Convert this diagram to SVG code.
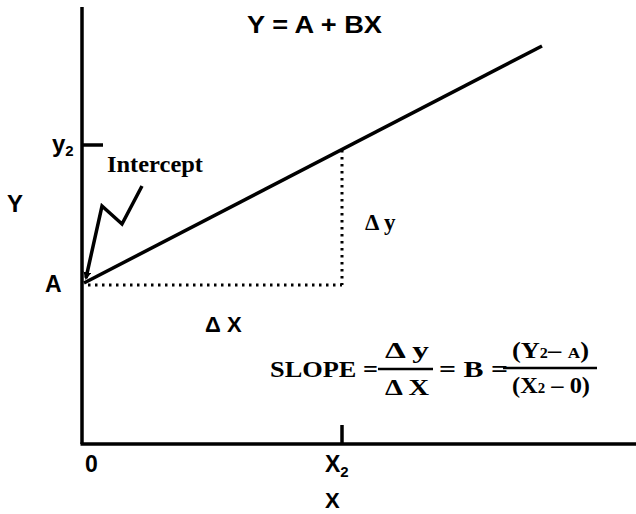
<svg xmlns="http://www.w3.org/2000/svg" width="636" height="514" viewBox="0 0 636 514">
<style>
.ax{stroke:#000;stroke-width:3.5;fill:none}
.dot{stroke:#000;stroke-width:3;fill:none;stroke-dasharray:2.5 4.5}
.sans{font-family:"Liberation Sans",Arial,sans-serif;font-weight:bold;fill:#000}
.serif{font-family:"Liberation Serif","Times New Roman",serif;font-weight:bold;fill:#000}
</style>
<defs>
<marker id="ah" markerWidth="8" markerHeight="8" refX="6" refY="4" orient="auto" markerUnits="userSpaceOnUse">
<path d="M0,0 L8,4 L0,8 z" fill="#000"/>
</marker>
</defs>
<rect width="636" height="514" fill="#fff"/>
<g id="connectors">
<path id="y-axis" class="ax" d="M82,7 V444"/>
<path id="x-axis" class="ax" d="M80.5,444 H636"/>
<path id="tick-x2" class="ax" d="M342,425 V444"/>
<path id="tick-y2" class="ax" d="M82,145 H103"/>
<path id="reg-line" class="ax" d="M84,283 L542,46"/>
<path id="dy" class="dot" d="M342,150 V285"/>
<path id="dx" class="dot" d="M88,285 H342"/>
<path id="intercept-arrow" class="ax" d="M142,186 L122,224 L102,206 L86,278" marker-end="url(#ah)"/>
</g>
<g id="title"><text class="sans" x="247" y="33" font-size="24" textLength="135" lengthAdjust="spacingAndGlyphs">Y = A + BX</text></g>
<g id="label-y"><text class="sans" x="7" y="212" font-size="24">Y</text></g>
<g id="label-a"><text class="sans" x="45" y="292" font-size="23">A</text></g>
<g id="label-y2"><text class="sans" font-weight="normal" x="52" y="152" font-size="24">y<tspan font-size="15" dy="4">2</tspan></text></g>
<g id="label-intercept"><text class="serif" x="107" y="172" font-size="23" textLength="96" lengthAdjust="spacingAndGlyphs">Intercept</text></g>
<g id="label-dy"><text class="serif" x="365" y="230" font-size="23">Δ y</text></g>
<g id="label-dx"><text class="sans" x="205" y="332" font-size="22">Δ X</text></g>
<g id="label-0"><text class="sans" x="85" y="472" font-size="23">0</text></g>
<g id="label-x2"><text class="sans" x="325" y="472" font-size="23">X<tspan font-size="15" dy="5">2</tspan></text></g>
<g id="label-x"><text class="sans" x="325" y="508" font-size="22">X</text></g>
<g id="formula">
<text class="serif" x="270" y="377" font-size="23" textLength="108" lengthAdjust="spacingAndGlyphs">SLOPE =</text>
<line x1="378" y1="369" x2="433" y2="369" stroke="#000" stroke-width="2.5"/>
<text class="serif" x="385" y="358" font-size="23" textLength="44" lengthAdjust="spacingAndGlyphs">Δ y</text>
<text class="serif" x="385" y="395" font-size="23" textLength="44" lengthAdjust="spacingAndGlyphs">Δ X</text>
<text class="serif" x="439" y="377" font-size="23" textLength="69" lengthAdjust="spacingAndGlyphs">= B =</text>
<line x1="503" y1="368" x2="597" y2="368" stroke="#000" stroke-width="2.5"/>
<text class="serif" x="512" y="358" font-size="23" textLength="77" lengthAdjust="spacingAndGlyphs">(Y<tspan font-size="14">2</tspan>– <tspan font-size="15">A</tspan>)</text>
<text class="serif" x="512" y="393" font-size="23" textLength="78" lengthAdjust="spacingAndGlyphs">(X<tspan font-size="14">2</tspan> – 0)</text>
</g>
</svg>
